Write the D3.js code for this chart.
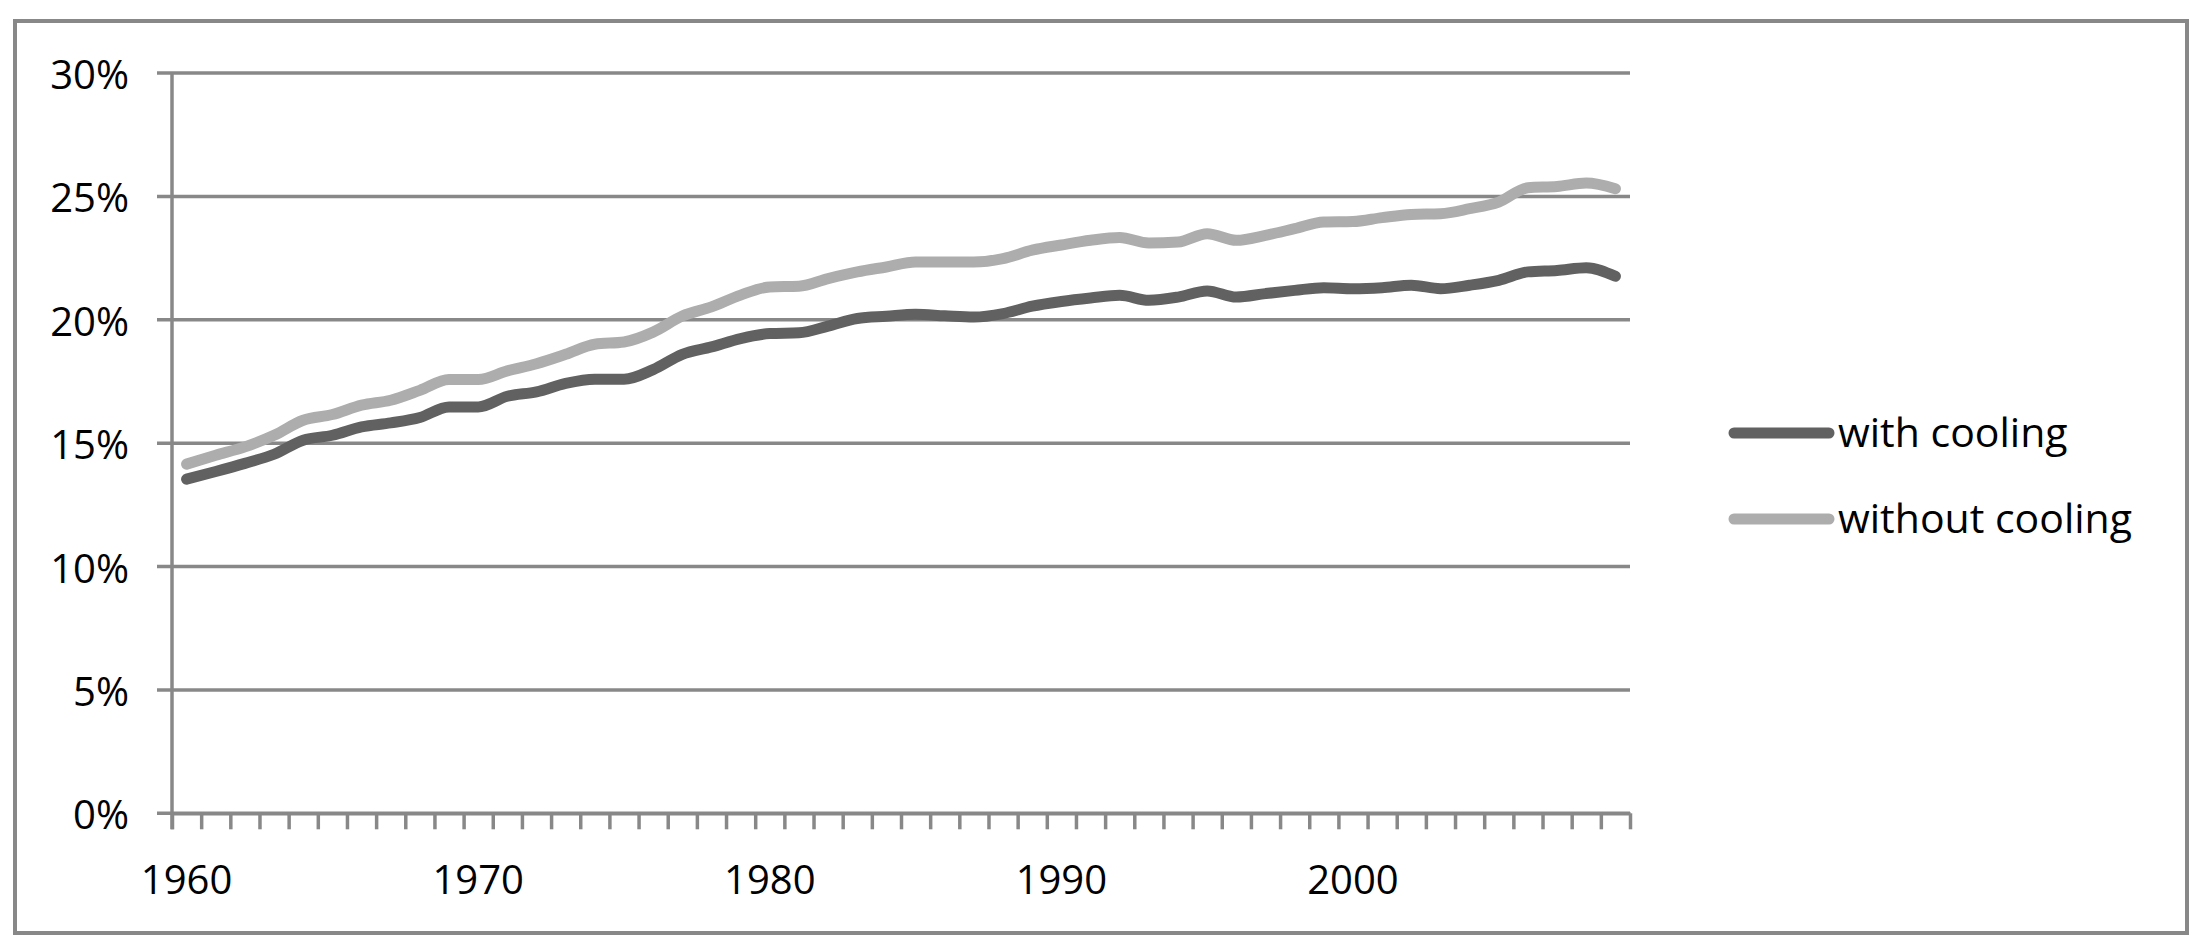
<!DOCTYPE html>
<html>
<head>
<meta charset="utf-8">
<script src="https://cdn.jsdelivr.net/npm/d3@7/dist/d3.min.js"></script>
<style>
  html, body { margin: 0; padding: 0; background: #fff; }
  svg { display: block; }
  text { font-family: "Open Sans", "Noto Sans", sans-serif; fill: #000; }
</style>
</head>
<body>
<svg id="chart" width="2197" height="945"></svg>
<script>
// ---- data ----
const years = d3.range(1960, 2010);
const withCooling = [
  13.54, 13.85, 14.18, 14.55, 15.12, 15.32, 15.66, 15.82, 16.04, 16.47,
  16.47, 16.90, 17.08, 17.42, 17.59, 17.59, 17.98, 18.60, 18.90, 19.24,
  19.44, 19.47, 19.74, 20.05, 20.14, 20.22, 20.16, 20.11, 20.25, 20.55,
  20.74, 20.88, 20.99, 20.79, 20.92, 21.17, 20.92, 21.06, 21.19, 21.30,
  21.26, 21.30, 21.40, 21.26, 21.40, 21.60, 21.94, 22.00, 22.11, 21.76
];
const withoutCooling = [
  14.15, 14.51, 14.85, 15.32, 15.93, 16.16, 16.54, 16.74, 17.14, 17.58,
  17.58, 17.93, 18.22, 18.60, 19.01, 19.10, 19.50, 20.15, 20.52, 21.00,
  21.33, 21.36, 21.67, 21.94, 22.14, 22.34, 22.34, 22.34, 22.48, 22.82,
  23.03, 23.22, 23.33, 23.11, 23.15, 23.49, 23.22, 23.42, 23.69, 23.96,
  23.98, 24.14, 24.27, 24.30, 24.50, 24.77, 25.35, 25.40, 25.54, 25.31
];
const seriesNames = ["with cooling", "without cooling"];
const yTicks = [0, 5, 10, 15, 20, 25, 30];
const xLabels = [1960, 1970, 1980, 1990, 2000];

// ---- layout ----
const plotLeft = 172, plotRight = 1630, plotTop = 73, plotBottom = 813.3;
const colors = ["#616161", "#adadad"];
const gridColor = "#888888";

const svg = d3.select("#chart");

// outer border
svg.append("rect")
  .attr("x", 15).attr("y", 21).attr("width", 2172).attr("height", 912)
  .attr("fill", "none").attr("stroke", gridColor).attr("stroke-width", 4);

const x = d3.scaleLinear().domain([1960, 2010]).range([plotLeft, plotRight]);
const y = d3.scaleLinear().domain([0, 30]).range([plotBottom, plotTop]);

// gridlines (extend left as tick marks)
svg.append("g").selectAll("line").data(yTicks).join("line")
  .attr("x1", plotLeft - 15).attr("x2", plotRight)
  .attr("y1", d => y(d)).attr("y2", d => y(d))
  .attr("stroke", gridColor).attr("stroke-width", 3.5);

// y axis labels
const yAxis = d3.axisLeft(y).tickValues(yTicks).tickSize(0).tickPadding(43)
  .tickFormat(d => d + "%");
const gy = svg.append("g").attr("transform", `translate(${plotLeft},0)`).call(yAxis);
gy.select(".domain").remove();
gy.selectAll("text").attr("font-size", 40).attr("dy", null)
  .attr("dominant-baseline", "central").style("font-family", "'Open Sans', sans-serif");

// y axis line
svg.append("line")
  .attr("x1", plotLeft).attr("x2", plotLeft)
  .attr("y1", plotTop).attr("y2", plotBottom + 16)
  .attr("stroke", gridColor).attr("stroke-width", 3.5);

// x axis with ticks between categories
const xAxis = d3.axisBottom(x).tickValues(d3.range(1960, 2011))
  .tickSizeInner(16).tickSizeOuter(0).tickFormat("");
const gx = svg.append("g").attr("transform", `translate(0,${plotBottom})`).call(xAxis);
gx.select(".domain").attr("stroke", gridColor).attr("stroke-width", 3.5);
gx.selectAll(".tick line").attr("stroke", gridColor).attr("stroke-width", 3.5);

// x labels
svg.append("g").selectAll("text").data(xLabels).join("text")
  .attr("x", d => x(d + 0.5)).attr("y", plotBottom + 81)
  .attr("text-anchor", "middle").attr("font-size", 40)
  .text(d => d);

// lines
const line = d3.line()
  .x((d, i) => x(years[i] + 0.5))
  .y(d => y(d))
  .curve(d3.curveMonotoneX);

[withCooling, withoutCooling].forEach((vals, k) => {
  svg.append("path")
    .datum(vals)
    .attr("d", line)
    .attr("fill", "none")
    .attr("stroke", colors[k])
    .attr("stroke-width", 11)
    .attr("stroke-linecap", "round")
    .attr("stroke-linejoin", "round");
});

// legend
const legendY = [433, 519];
const lg = svg.append("g");
seriesNames.forEach((name, k) => {
  lg.append("line")
    .attr("x1", 1734).attr("x2", 1829)
    .attr("y1", legendY[k]).attr("y2", legendY[k])
    .attr("stroke", colors[k]).attr("stroke-width", 11)
    .attr("stroke-linecap", "round");
  lg.append("text")
    .attr("x", 1838).attr("y", legendY[k] + 14)
    .attr("font-size", 41)
    .text(name);
});
</script>
</body>
</html>
